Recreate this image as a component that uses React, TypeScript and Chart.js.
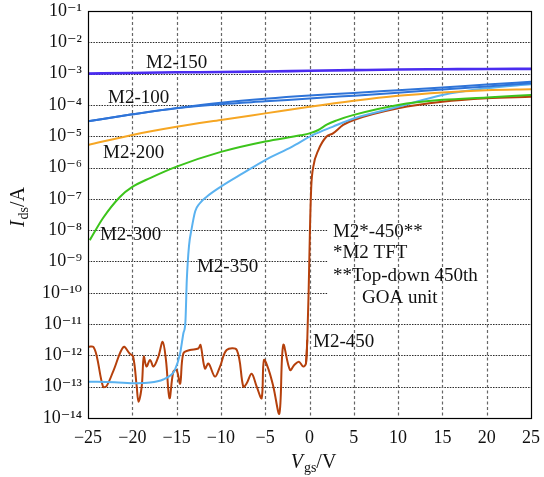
import { useEffect, useRef } from "react";
import { Chart, registerables } from "chart.js";

Chart.register(...registerables);

// ---------- axis ticks ----------
const xTickValues = [-25, -20, -15, -10, -5, 0, 5, 10, 15, 20, 25];
const xTickLabels = ["−25", "−20", "−15", "−10", "−5", "0", "5", "10", "15", "20", "25"];
const yTickValues = [1e-1, 1e-2, 1e-3, 1e-4, 1e-5, 1e-6, 1e-7, 1e-8, 1e-9, 1e-10, 1e-11, 1e-12, 1e-13, 1e-14];
const yTickLabels = ["10⁻¹", "10⁻²", "10⁻³", "10⁻⁴", "10⁻⁵", "10⁻⁶", "10⁻⁷", "10⁻⁸", "10⁻⁹", "10⁻¹⁰", "10⁻¹¹", "10⁻¹²", "10⁻¹³", "10⁻¹⁴"];

// ---------- series (Vgs in V, Ids in A) ----------
const m2_150_x = [-25, -20, -15, -10, -5, 0, 5, 10, 15, 20, 25];
const m2_150_y = [1.0e-3, 1.05e-3, 1.1e-3, 1.12e-3, 1.17e-3, 1.23e-3, 1.29e-3, 1.35e-3, 1.38e-3, 1.41e-3, 1.42e-3];

const m2_100a_x = [-25, -20, -15, -10, -5, 0, 5, 10, 15, 20, 25];
const m2_100a_y = [3.02e-5, 5.0e-5, 7.9e-5, 1.17e-4, 1.58e-4, 2.0e-4, 2.4e-4, 2.95e-4, 3.63e-4, 4.47e-4, 5.5e-4];
const m2_100b_x = [-25, -20, -15, -10, -5, 0, 5, 10, 15, 20, 25];
const m2_100b_y = [3.02e-5, 5.0e-5, 7.8e-5, 1.05e-4, 1.3e-4, 1.6e-4, 1.98e-4, 2.45e-4, 3.1e-4, 3.9e-4, 4.9e-4];

const m2_200_x = [-25, -20, -15, -10, -5, 0, 5, 10, 15, 20, 25];
const m2_200_y = [5.25e-6, 1.1e-5, 2.0e-5, 3.31e-5, 5.37e-5, 8.7e-5, 1.35e-4, 1.95e-4, 2.51e-4, 2.95e-4, 3.16e-4];

const m2_300_x = [-24.8, -23.3, -21.4, -20, -18, -15, -10, -5, -1, 0, 1, 2, 3, 5, 10, 15, 20, 25];
const m2_300_y = [4.8e-9, 2.45e-8, 1.15e-7, 2.4e-7, 4.6e-7, 1.07e-6, 3.16e-6, 6.8e-6, 1.07e-5, 1.23e-5, 1.58e-5, 2.4e-5, 3.16e-5, 4.8e-5, 1.0e-4, 1.45e-4, 1.74e-4, 2.09e-4];

const m2_350_x = [-25, -22, -19.5, -18, -16.5, -15.6, -15.2, -14.6, -14.24, -14.0, -13.85, -13.6, -13.3, -12.9, -12.4, -11.6, -10, -7.5, -5, -2, 0.4, 2.6, 5, 10, 15, 20, 25];
const m2_350_y = [1.45e-13, 1.38e-13, 1.29e-13, 1.35e-13, 1.7e-13, 2.4e-13, 3.4e-13, 1.17e-12, 5.0e-12, 1.26e-11, 2.5e-10, 3.16e-9, 1.12e-8, 4.0e-8, 7.1e-8, 1.17e-7, 2.45e-7, 6.6e-7, 1.74e-6, 4.6e-6, 1.1e-5, 2.0e-5, 3.7e-5, 8.7e-5, 2.09e-4, 3.4e-4, 4.57e-4];

const m2_450_x = [-24.9, -24.4, -24.0, -23.3, -22.9, -22.1, -21.0, -20.3, -19.9, -19.5, -19.3, -18.94, -18.7, -18.4, -18.0, -17.6, -17.06, -16.57, -16.2, -15.8, -15.37, -15.0, -14.6, -14.24, -13.5, -12.55, -12.3, -11.8, -11.4, -10.67, -10.1, -9.35, -8.2, -7.47, -7.1, -6.53, -5.96, -5.4, -5.14, -4.6, -4.08, -3.4, -2.96, -2.2, -1.7, -1.2, -0.7, -0.4, -0.25, -0.1, 0.05, 0.2, 0.43, 1.0, 1.93, 2.65, 3.8, 5, 10, 15, 20, 25];
const m2_450_y = [1.9e-12, 1.86e-12, 9.1e-13, 1.0e-13, 1.05e-13, 3.4e-13, 1.86e-12, 1.15e-12, 9.1e-13, 1.0e-13, 3.3e-14, 1.0e-13, 9.1e-13, 4.4e-13, 7.1e-13, 4.4e-13, 9.1e-13, 2.7e-12, 7.1e-13, 4.3e-14, 3.0e-13, 3.4e-13, 1.26e-13, 1.15e-12, 1.48e-12, 1.66e-12, 2.14e-12, 3.8e-13, 5.5e-13, 2.1e-13, 4.4e-13, 1.48e-12, 1.48e-12, 1.0e-13, 1.26e-13, 2.6e-13, 1.0e-13, 4.3e-14, 7.1e-13, 3.4e-13, 1.0e-13, 1.4e-14, 2.14e-12, 3.4e-13, 5.0e-13, 6.3e-13, 4.4e-13, 5.5e-13, 3.16e-12, 1.0e-10, 1.0e-8, 2.5e-7, 1.07e-6, 3.6e-6, 9.8e-6, 1.23e-5, 2.3e-5, 3.3e-5, 7.8e-5, 1.26e-4, 1.62e-4, 1.82e-4];
const m2_450_turnOnV = -0.4;

// ---------- labels inside the plot ----------
const curveLabels = ["M2-150", "M2-100", "M2-200", "M2-300", "M2-350", "M2-450"];
const curveLabelAt: [number, number][] = [[-18.45, 2.2e-3], [-22.74, 1.66e-4], [-23.3, 2.9e-6], [-23.65, 6.9e-9], [-12.7, 6.6e-10], [0.4, 2.7e-12]];
const noteLines = ["M2*-450**", "*M2 TFT", "**Top-down 450th", "GOA unit"];
const noteAt: [number, number][] = [[2.65, 8.7e-9], [2.65, 1.86e-9], [2.65, 3.4e-10], [5.93, 6.8e-11]];
const noteBoxLeftV = 2;
const noteBoxDecades = [-8, -9, -10];

const SERIF = '"Liberation Serif", "DejaVu Serif", serif';

const pts = (xs: number[], ys: number[]) => xs.map((x, i) => ({ x, y: ys[i] }));

const decorPlugin = {
  id: "decor",
  beforeDatasetsDraw(chart: any) {
    const { ctx, chartArea, scales } = chart;
    const { left, right, top, bottom } = chartArea;
    const xs = scales.x;
    const ys = scales.y;
    ctx.save();
    ctx.strokeStyle = "#111";
    ctx.lineWidth = 0.9;
    ctx.setLineDash([1.5, 1.2]);
    for (let e = -2; e >= -13; e--) {
      const yy = Math.round(ys.getPixelForValue(Math.pow(10, e))) + 0.5;
      const xEnd = noteBoxDecades.includes(e) ? xs.getPixelForValue(noteBoxLeftV) : right;
      ctx.beginPath();
      ctx.moveTo(left, yy);
      ctx.lineTo(xEnd, yy);
      ctx.stroke();
    }
    ctx.strokeStyle = "#666";
    ctx.lineWidth = 1.2;
    ctx.setLineDash([3, 2.5]);
    for (const v of xTickValues) {
      if (v === -25 || v === 25) continue;
      const xx = Math.round(xs.getPixelForValue(v)) + 0.5;
      ctx.beginPath();
      ctx.moveTo(xx, top);
      ctx.lineTo(xx, bottom);
      ctx.stroke();
    }
    ctx.restore();
  },
  afterDatasetsDraw(chart: any) {
    const { ctx, chartArea, scales } = chart;
    const { left, right, top, bottom } = chartArea;
    const xs = scales.x;
    const ys = scales.y;
    ctx.save();
    ctx.setLineDash([]);
    ctx.strokeStyle = "#000";
    ctx.lineWidth = 1.2;
    ctx.strokeRect(Math.round(left) + 0.5, Math.round(top) + 0.5, Math.round(right - left), Math.round(bottom - top));
    ctx.fillStyle = "#111";
    ctx.font = `19px ${SERIF}`;
    ctx.textBaseline = "middle";
    ctx.textAlign = "left";
    curveLabels.forEach((t, i) => {
      const [vx, vy] = curveLabelAt[i];
      ctx.fillText(t, xs.getPixelForValue(vx), ys.getPixelForValue(vy));
    });
    noteLines.forEach((t, i) => {
      const [vx, vy] = noteAt[i];
      ctx.fillText(t, xs.getPixelForValue(vx), ys.getPixelForValue(vy));
    });
    ctx.restore();
  },
  afterDraw(chart: any) {
    const { ctx, chartArea } = chart;
    const drawTitle = (main: string, sub: string, tail: string) => {
      const big = `20px ${SERIF}`;
      const bigIt = `italic 20px ${SERIF}`;
      const small = `14px ${SERIF}`;
      ctx.font = bigIt;
      const w1 = ctx.measureText(main).width;
      ctx.font = small;
      const w2 = ctx.measureText(sub).width;
      ctx.font = big;
      const w3 = ctx.measureText(tail).width;
      const total = w1 + w2 + w3 + 1;
      let x0 = -total / 2;
      ctx.textBaseline = "alphabetic";
      ctx.textAlign = "left";
      ctx.font = bigIt;
      ctx.fillText(main, x0, 0);
      x0 += w1 + 1;
      ctx.font = small;
      ctx.fillText(sub, x0, 4);
      x0 += w2;
      ctx.font = big;
      ctx.fillText(tail, x0, 0);
    };
    ctx.save();
    ctx.fillStyle = "#111";
    ctx.translate((chartArea.left + chartArea.right) / 2 + 4, 468);
    drawTitle("V", "gs", "/V");
    ctx.restore();
    ctx.save();
    ctx.fillStyle = "#111";
    ctx.translate(24, 207);
    ctx.rotate(-Math.PI / 2);
    drawTitle("I", "ds", "/A");
    ctx.restore();
  },
};

export default function App() {
  const ref = useRef<HTMLCanvasElement>(null);
  useEffect(() => {
    if (!ref.current) return;
    const mk = (label: string, data: { x: number; y: number }[], color: string, width = 2, smooth: "monotone" | "default" = "monotone") => ({
      label,
      data,
      borderColor: color,
      backgroundColor: color,
      borderWidth: width,
      pointRadius: 0,
      fill: false,
      tension: smooth === "default" ? 0.35 : 0.4,
      cubicInterpolationMode: smooth,
    });
    const m2_450 = pts(m2_450_x, m2_450_y);
    const m2_450_off = m2_450.filter((p) => p.x <= m2_450_turnOnV + 0.15);
    const m2_450_on = m2_450.filter((p) => p.x >= m2_450_turnOnV);
    const chart = new Chart(ref.current, {
      type: "line",
      data: {
        datasets: [
          mk("M2-100", pts(m2_100b_x, m2_100b_y), "#2f74d8"),
          mk("M2-100", pts(m2_100a_x, m2_100a_y), "#2f74d8"),
          mk("M2-200", pts(m2_200_x, m2_200_y), "#f6a623"),
          mk("M2-300", pts(m2_300_x, m2_300_y), "#3cc41b"),
          mk("M2-350", pts(m2_350_x, m2_350_y), "#5ab2f0"),
          mk("M2-450", m2_450_off, "#b5400c", 2, "default"),
          mk("M2-450", m2_450_on, "#b5400c"),
          mk("M2-150", pts(m2_150_x, m2_150_y), "#4a2cf0", 2.6),
        ],
      },
      options: {
        animation: false,
        responsive: true,
        maintainAspectRatio: false,
        layout: { padding: { top: 11, right: 13, left: 0, bottom: 0 } },
        plugins: { legend: { display: false }, tooltip: { enabled: false } },
        scales: {
          x: {
            type: "linear",
            min: -25,
            max: 25,
            grid: { display: false, drawTicks: false },
            border: { display: false },
            afterBuildTicks: (scale: any) => {
              scale.ticks = xTickValues.map((v) => ({ value: v }));
            },
            afterFit: (scale: any) => {
              scale.height = 59;
              scale.paddingLeft = 0;
              scale.paddingRight = 0;
            },
            ticks: {
              padding: 9,
              color: "#111",
              font: { family: SERIF, size: 18 },
              maxRotation: 0,
              callback: (v: any) => {
                const i = xTickValues.indexOf(Number(v));
                return i >= 0 ? xTickLabels[i] : "";
              },
            },
          },
          y: {
            type: "logarithmic",
            min: 1e-14,
            max: 1e-1,
            grid: { display: false, drawTicks: false },
            border: { display: false },
            afterBuildTicks: (scale: any) => {
              scale.ticks = yTickValues.slice().reverse().map((v) => ({ value: v }));
            },
            afterFit: (scale: any) => {
              scale.width = 88;
              scale.paddingTop = 0;
              scale.paddingBottom = 0;
            },
            ticks: {
              padding: 6,
              color: "#111",
              font: { family: SERIF, size: 18 },
              callback: (v: any) => {
                const e = Math.round(Math.log10(Number(v)));
                const i = yTickValues.findIndex((t) => Math.round(Math.log10(t)) === e);
                return i >= 0 ? yTickLabels[i] : "";
              },
            },
          },
        },
      },
      plugins: [decorPlugin],
    });
    return () => chart.destroy();
  }, []);
  return (
    <div style={{ position: "fixed", left: 0, top: 0, width: 544, height: 477, background: "#fff" }}>
      <canvas ref={ref} />
    </div>
  );
}
